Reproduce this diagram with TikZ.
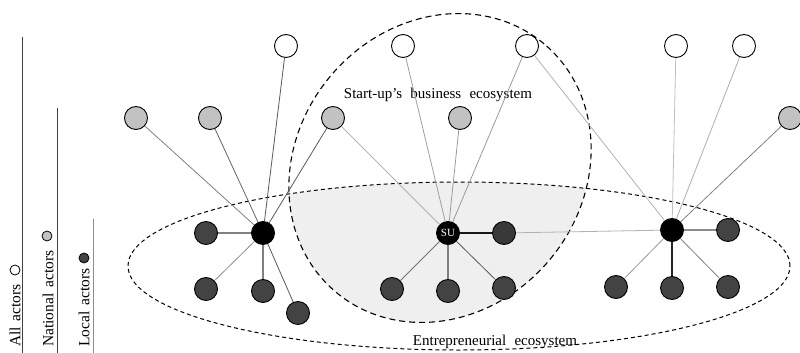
\documentclass[tikz,border=0pt]{standalone}
\usepackage{fontspec}
\setmainfont{Liberation Serif}
\definecolor{natgray}{HTML}{C2C2C2}
\definecolor{locgray}{HTML}{434343}
\definecolor{shadegray}{HTML}{EFEFEF}
\newcommand\legsp{\hspace{0.38em}}
\newcommand\ecosp{\hspace{0.55em}}
\begin{document}
\begin{tikzpicture}[x=1pt,y=-1pt,
  actor/.style={circle,draw=black,line width=0.9pt,minimum size=23pt,inner sep=0pt},
  allA/.style={actor,fill=white},
  natA/.style={actor,fill=natgray},
  locA/.style={actor,fill=locgray},
  hubA/.style={actor,fill=black},
  legdot/.style={circle,draw=black,line width=0.8pt,minimum size=10pt,inner sep=0pt},
  leglabel/.style={rotate=90,anchor=west,inner sep=0pt,font=\fontsize{15.5}{18}\selectfont},
  ecolabel/.style={font=\fontsize{15}{18}\selectfont,inner sep=1pt},
  bigeco/.style={dash pattern=on 6pt off 4pt,line width=1.1pt},
  smalleco/.style={dash pattern=on 4pt off 3pt,line width=1pt},
  tie/.style={line width=0.8pt},
  tieb/.style={line width=1.3pt}]
\useasboundingbox (0,0) rectangle (800,353);
% shaded intersection
\begin{scope}
  \clip (459,266) ellipse [x radius=331pt, y radius=84pt];
  \fill[shadegray,rotate around={50:(440,168)}] (440,168) ellipse [x radius=162pt, y radius=143pt];
\end{scope}
% ecosystems
\draw[smalleco] (459,266) ellipse [x radius=331pt, y radius=84pt];
\draw[bigeco,rotate around={50:(440,168)}] (440,168) ellipse [x radius=162pt, y radius=143pt];
% legend
\draw[line width=1pt,black!75] (22,37) -- (22,353);
\draw[line width=1pt,black!75] (57,108) -- (57,353);
\draw[line width=1pt,black!45] (93,219) -- (93,353);
\node[leglabel] (lgA) at (15,347) {All\legsp actors};
\node[leglabel] (lgN) at (48,347) {National\legsp actors};
\node[leglabel] (lgL) at (84,347) {Local\legsp actors};
\node[legdot,fill=white] (dA) at (15,270) {};
\node[legdot,fill=natgray] (dN) at (47,236) {};
\node[legdot,fill=locgray] (dL) at (84,258) {};
% labels
\node[ecolabel] (tSU) at (438,95) {Start-up’s\ecosp business\ecosp ecosystem};
\node[ecolabel] (tEN) at (495,342) {Entrepreneurial\ecosp ecosystem};
% left cluster
\node[hubA] (hL) at (263,233) {};
\node[allA] (a1) at (286,46) {};
\node[natA] (n1) at (136,118) {};
\node[natA] (n2) at (210,118) {};
\node[natA] (n3) at (333,118) {};
\node[locA] (l1) at (206,233) {};
\node[locA] (l2) at (206,289) {};
\node[locA] (l3) at (263,291) {};
\node[locA] (l4) at (298,313) {};
% centre cluster
\node[hubA,text=white,font=\fontsize{11}{11}\selectfont] (su) at (448,233) {SU};
\node[allA] (a2) at (403,46) {};
\node[allA] (a3) at (527,46) {};
\node[natA] (n4) at (460,118) {};
\node[locA,fill=locgray!85!black] (l5) at (504,233) {};
\node[locA] (l6) at (392,289) {};
\node[locA] (l7) at (448,291) {};
\node[locA] (l8) at (504,288) {};
% right cluster
\node[hubA] (hR) at (672,230) {};
\node[allA] (a4) at (676,46) {};
\node[allA] (a5) at (744,46) {};
\node[natA] (n5) at (790,118) {};
\node[locA] (l9) at (728,230) {};
\node[locA] (l10) at (616,287) {};
\node[locA] (l11) at (672,288) {};
\node[locA] (l12) at (728,287) {};
% ties of left hub
\draw[tie,black!50] (hL) -- (n1);
\draw[tie,black!60] (hL) -- (n2);
\draw[tie,black!65] (hL) -- (a1);
\draw[tie,black!65] (hL) -- (n3);
\draw[tieb,black!50] (hL) -- (l1);
\draw[tie,black!45] (hL) -- (l2);
\draw[tieb,black!50] (hL) -- (l3);
\draw[tie,black!65] (hL) -- (l4);
% ties of SU
\draw[tie,black!30] (su) -- (n3);
\draw[tie,black!38] (su) -- (a2);
\draw[tie,black!40] (su) -- (n4);
\draw[tie,black!40] (su) -- (a3);
\draw[tieb,black!90] (su) -- (l5);
\draw[tie,black!55] (su) -- (l6);
\draw[tieb,black!50] (su) -- (l7);
\draw[tie,black!65] (su) -- (l8);
\draw[tie,black!30] (l5) -- (hR);
% ties of right hub
\draw[tie,black!30] (hR) -- (a3);
\draw[tie,black!25] (hR) -- (a4);
\draw[tie,black!32] (hR) -- (a5);
\draw[tie,black!50] (hR) -- (n5);
\draw[tieb,black!45] (hR) -- (l9);
\draw[tie,black!40] (hR) -- (l10);
\draw[tieb,black!85] (hR) -- (l11);
\draw[tie,black!50] (hR) -- (l12);
\end{tikzpicture}
\end{document}
